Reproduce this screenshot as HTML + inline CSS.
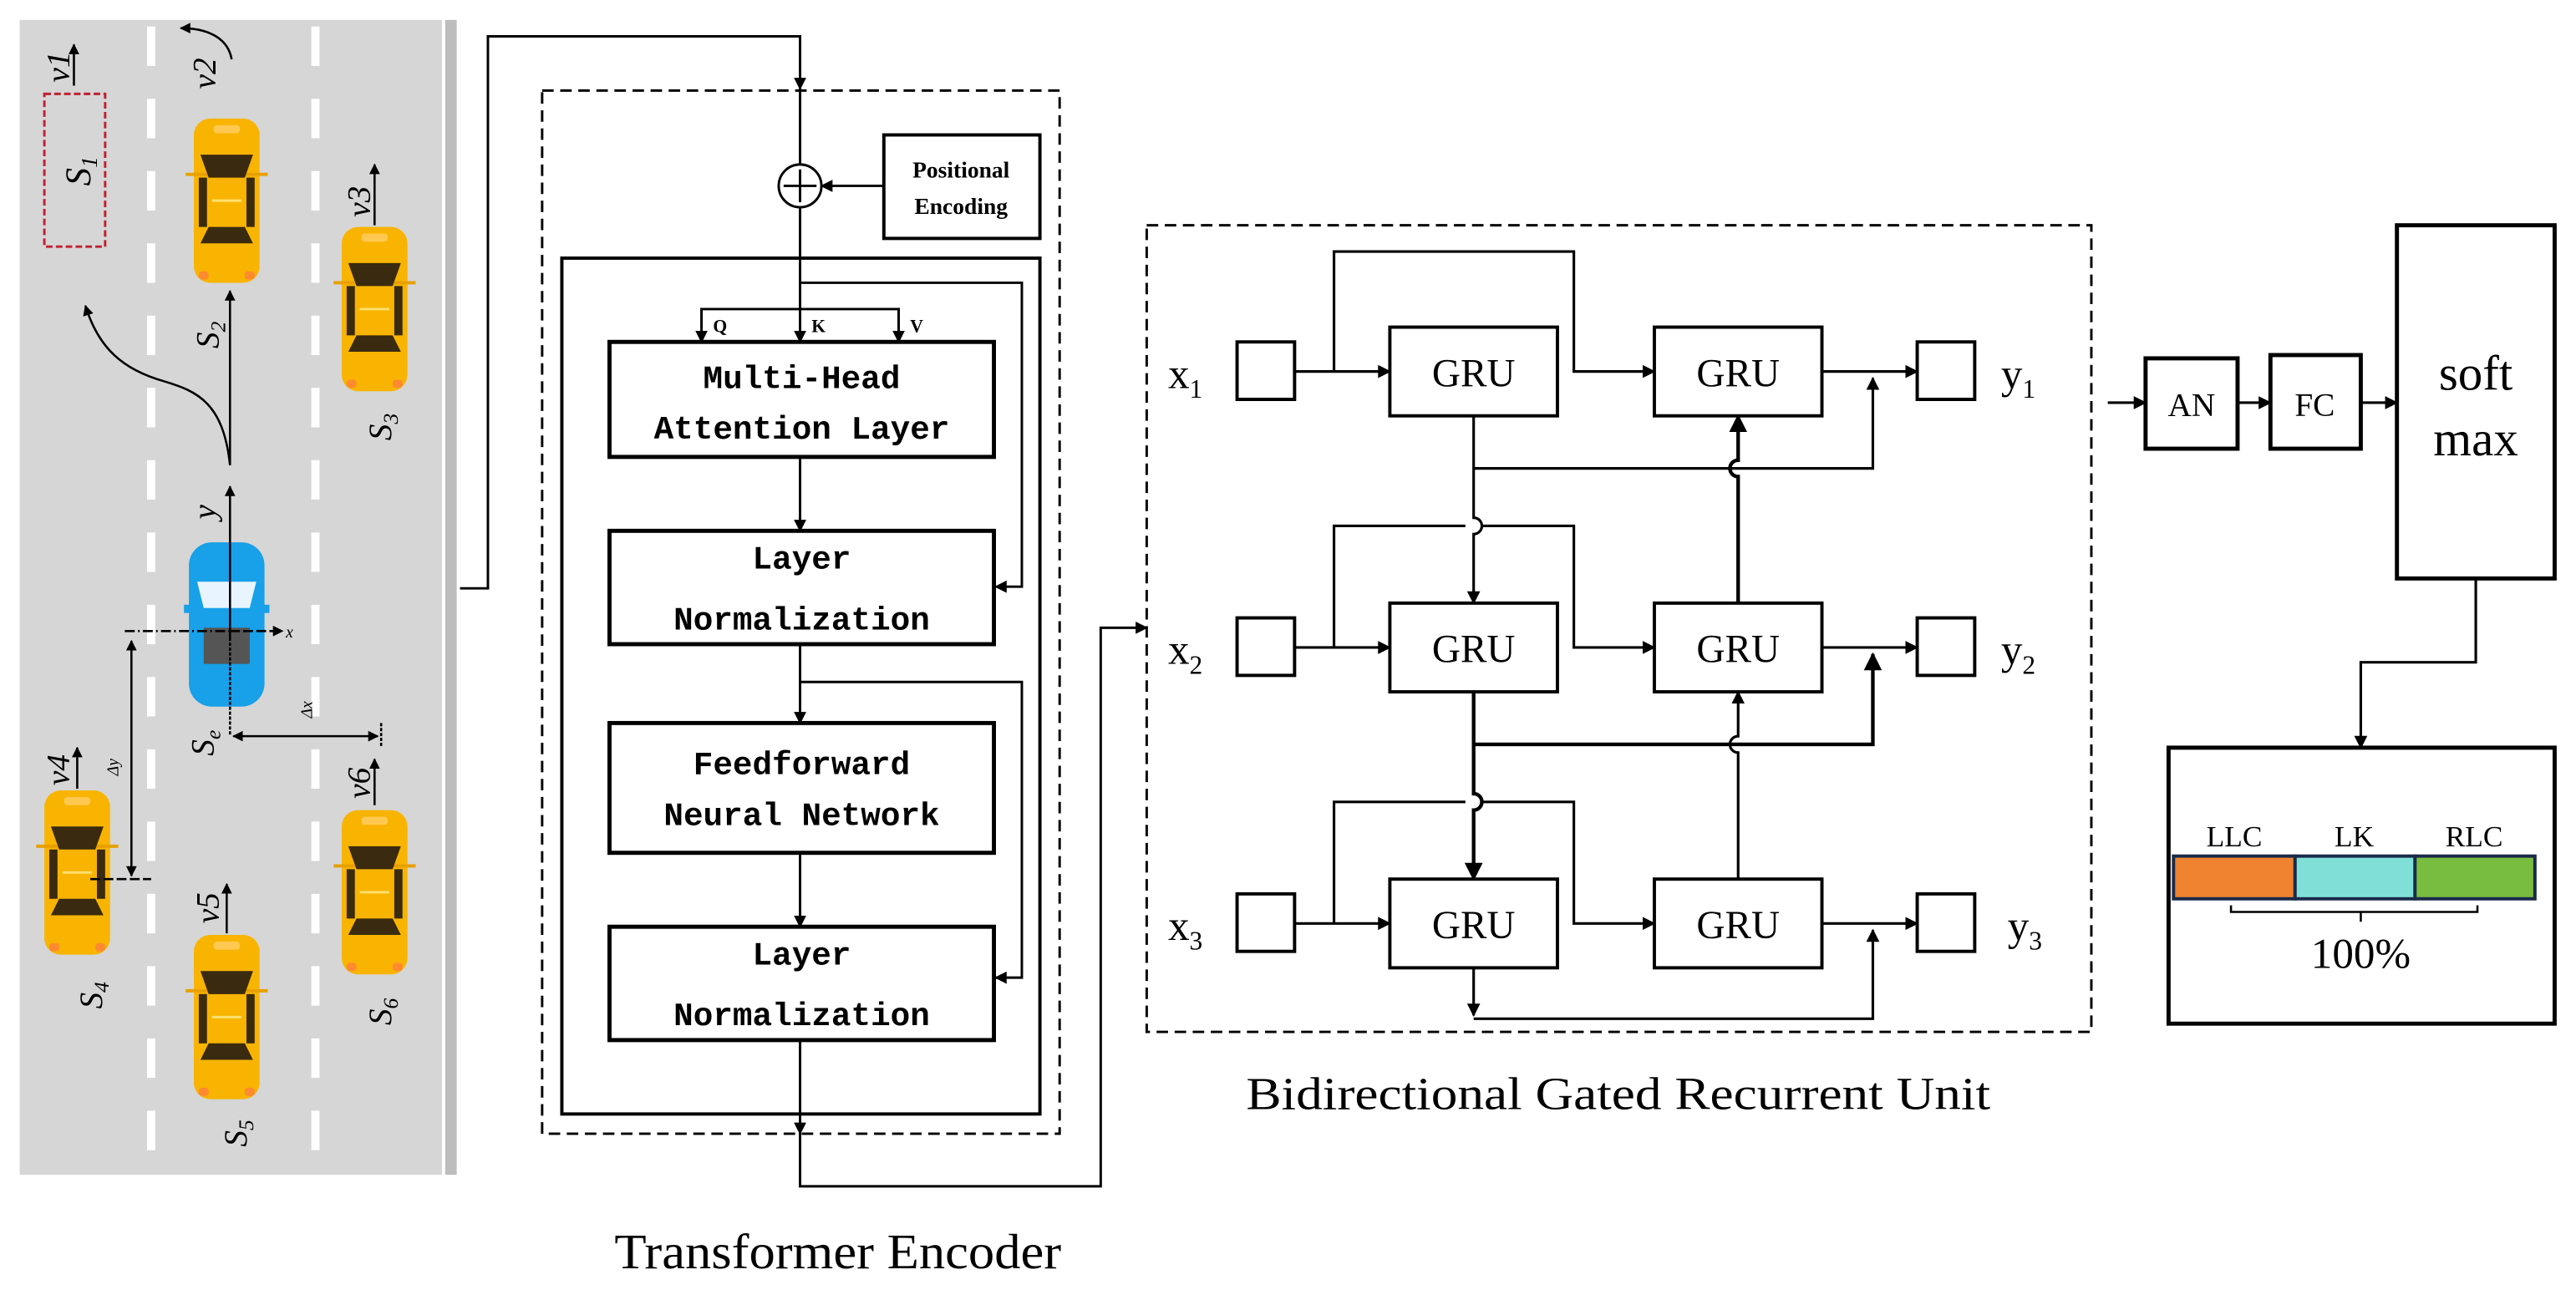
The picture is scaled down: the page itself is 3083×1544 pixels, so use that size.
<!DOCTYPE html>
<html><head><meta charset="utf-8"><style>
html,body{margin:0;padding:0;background:#fff;}
svg{display:block;}
.m{font-family:"Liberation Mono",monospace;font-size:20px;fill:#000;}
.s{font-family:"Liberation Serif",serif;fill:#000;}
.i{font-family:"Liberation Serif",serif;font-style:italic;fill:#000;}
</style></head><body>
<svg width="3083" height="1544" viewBox="0 0 1568 785" xmlns="http://www.w3.org/2000/svg">
<defs>
<marker id="a" viewBox="0 0 10 10" refX="9" refY="5" markerWidth="5" markerHeight="5" orient="auto-start-reverse"><path d="M0,0L10,5L0,10z" fill="#000"/></marker>
<g id="car">
<rect x="-20" y="-50" width="40" height="100" rx="10" fill="#f8b400"/>
<line x1="-25" y1="-16" x2="25" y2="-16" stroke="#e8a000" stroke-width="2"/>
<path d="M-16,-28 L16,-28 L11,-14 L-11,-14 Z" fill="#3a2a10"/>
<path d="M-16,26 L16,26 L11,16 L-11,16 Z" fill="#3a2a10"/>
<rect x="-17" y="-14" width="5" height="30" fill="#3a2a10"/>
<rect x="12" y="-14" width="5" height="30" fill="#3a2a10"/>
<line x1="-9" y1="0" x2="9" y2="0" stroke="#ffe070" stroke-width="1.5"/>
<rect x="-8" y="-46" width="16" height="5" rx="2" fill="#ffc850"/>
<rect x="-17" y="43" width="6" height="5" rx="2" fill="#ff8a30"/>
<rect x="11" y="43" width="6" height="5" rx="2" fill="#ff8a30"/>
</g>
</defs>

<!-- road -->
<rect x="12" y="12" width="257" height="703" fill="#d6d6d6"/>
<rect x="271" y="12" width="7" height="703" fill="#bdbdbd"/>
<line x1="92" y1="16" x2="92" y2="715" stroke="#fff" stroke-width="5" stroke-dasharray="24,20"/>
<line x1="192" y1="16" x2="192" y2="715" stroke="#fff" stroke-width="5" stroke-dasharray="24,20"/>
<rect x="27" y="57" width="37" height="93" fill="none" stroke="#c02030" stroke-width="1.5" stroke-dasharray="4,2"/>
<text class="i" font-size="22" transform="translate(55,104) rotate(-90)" text-anchor="middle">S<tspan font-size="14" dy="4">1</tspan></text>
<use href="#car" x="138" y="122"/>
<use href="#car" x="228" y="188"/>
<use href="#car" x="47" y="531"/>
<use href="#car" x="138" y="619"/>
<use href="#car" x="228" y="543"/>
<!-- blue car -->
<g transform="translate(138,380)">
<rect x="-23" y="-50" width="46" height="100" rx="14" fill="#18a0e8"/>
<path d="M-18,-26 L18,-26 L14,-10 L-14,-10 Z" fill="#e8f4ff"/>
<rect x="-14" y="2" width="28" height="22" fill="#555"/>
<rect x="-26" y="-12" width="6" height="5" fill="#18a0e8"/>
<rect x="20" y="-12" width="6" height="5" fill="#18a0e8"/>
</g>
<!-- arrows on road -->
<g stroke="#000" stroke-width="1.3" fill="none">
<line x1="45" y1="52" x2="45" y2="27" marker-end="url(#a)"/>
<line x1="228" y1="137" x2="228" y2="100" marker-end="url(#a)"/>
<line x1="140" y1="283" x2="140" y2="177" marker-end="url(#a)"/>
<line x1="140" y1="388" x2="140" y2="296" marker-end="url(#a)"/>
<line x1="47" y1="480" x2="47" y2="455" marker-end="url(#a)"/>
<line x1="138" y1="568" x2="138" y2="538" marker-end="url(#a)"/>
<line x1="228" y1="490" x2="228" y2="462" marker-end="url(#a)"/>
<path d="M140,283 C136,245 120,238 100,232 C75,225 60,212 52,186" marker-end="url(#a)"/>
<path d="M141,36 C139,24 128,17 110,17" marker-end="url(#a)"/>
<line x1="140" y1="384" x2="172" y2="384" marker-end="url(#a)" stroke-dasharray="6,2"/>
<line x1="76" y1="384" x2="140" y2="384" stroke-dasharray="6,2,1,2"/>
<line x1="140" y1="388" x2="140" y2="448" stroke-dasharray="2,1"/>
<line x1="80" y1="390" x2="80" y2="533" marker-start="url(#a)" marker-end="url(#a)"/>
<line x1="55" y1="535" x2="92" y2="535" stroke-dasharray="6,2"/>
<line x1="142" y1="448" x2="230" y2="448" marker-start="url(#a)" marker-end="url(#a)"/>
<line x1="232" y1="440" x2="232" y2="455" stroke-dasharray="2,1"/>
</g>
<g class="i" font-size="20">
<text transform="translate(42,50) rotate(-90)">v1</text>
<text transform="translate(131,54) rotate(-90)">v2</text>
<text transform="translate(225,132) rotate(-90)">v3</text>
<text transform="translate(42,478) rotate(-90)">v4</text>
<text transform="translate(133,562) rotate(-90)">v5</text>
<text transform="translate(225,486) rotate(-90)">v6</text>
<text transform="translate(131,316) rotate(-90)">y</text>
<text transform="translate(133,212) rotate(-90)">S<tspan font-size="13" dy="4">2</tspan></text>
<text transform="translate(238,268) rotate(-90)">S<tspan font-size="13" dy="4">3</tspan></text>
<text transform="translate(62,614) rotate(-90)">S<tspan font-size="13" dy="4">4</tspan></text>
<text transform="translate(150,698) rotate(-90)">S<tspan font-size="13" dy="4">5</tspan></text>
<text transform="translate(238,624) rotate(-90)">S<tspan font-size="13" dy="4">6</tspan></text>
<text transform="translate(130,460) rotate(-90)">S<tspan font-size="13" dy="4">e</tspan></text>
</g>
<text class="i" font-size="10" x="174" y="388">x</text>
<text class="i" font-size="10" transform="translate(190,437) rotate(-90)">Δx</text>
<text class="i" font-size="10" transform="translate(72,472) rotate(-90)">Δy</text>

<!-- connectors road -> transformer -->
<g stroke="#000" stroke-width="1.5" fill="none">
<polyline points="280,358 297,358 297,22 487,22 487,54" marker-end="url(#a)"/>
<line x1="487" y1="54" x2="487" y2="100"/>
<circle cx="487" cy="113" r="13" fill="#fff"/>
<line x1="477" y1="113" x2="497" y2="113"/>
<line x1="487" y1="103" x2="487" y2="123"/>
<line x1="538" y1="113" x2="500" y2="113" marker-end="url(#a)"/>
<line x1="487" y1="126" x2="487" y2="208" marker-end="url(#a)"/>
<polyline points="487,188 427,188 427,208" marker-end="url(#a)"/>
<polyline points="487,188 547,188 547,208" marker-end="url(#a)"/>
<polyline points="487,172 622,172 622,357 606,357" marker-end="url(#a)"/>
<line x1="487" y1="278" x2="487" y2="323" marker-end="url(#a)"/>
<line x1="487" y1="392" x2="487" y2="440" marker-end="url(#a)"/>
<polyline points="487,415 622,415 622,595 606,595" marker-end="url(#a)"/>
<line x1="487" y1="519" x2="487" y2="564" marker-end="url(#a)"/>
<line x1="487" y1="633" x2="487" y2="690" marker-end="url(#a)"/>
<polyline points="487,690 487,722 670,722 670,382 698,382" marker-end="url(#a)"/>
</g>
<rect x="330" y="55" width="315" height="635" fill="none" stroke="#000" stroke-width="1.5" stroke-dasharray="7,4"/>
<rect x="342" y="157" width="291" height="521" fill="none" stroke="#000" stroke-width="2"/>
<rect x="538" y="82" width="95" height="63" fill="#fff" stroke="#000" stroke-width="2"/>
<text class="s" font-weight="bold" font-size="14" x="585" y="108" text-anchor="middle">Positional</text>
<text class="s" font-weight="bold" font-size="14" x="585" y="130" text-anchor="middle">Encoding</text>
<text class="s" font-weight="bold" font-size="11" x="434" y="202">Q</text>
<text class="s" font-weight="bold" font-size="11" x="494" y="202">K</text>
<text class="s" font-weight="bold" font-size="11" x="554" y="202">V</text>
<g fill="#fff" stroke="#000" stroke-width="2.5">
<rect x="371" y="208" width="234" height="70"/>
<rect x="371" y="323" width="234" height="69"/>
<rect x="371" y="440" width="234" height="79"/>
<rect x="371" y="564" width="234" height="69"/>
</g>
<g class="m" font-weight="bold" text-anchor="middle">
<text x="488" y="236">Multi-Head</text>
<text x="488" y="267">Attention Layer</text>
<text x="488" y="346">Layer</text>
<text x="488" y="383">Normalization</text>
<text x="488" y="471">Feedforward</text>
<text x="488" y="502">Neural Network</text>
<text x="488" y="587">Layer</text>
<text x="488" y="624">Normalization</text>
</g>
<text class="s" font-size="30" x="510" y="772" text-anchor="middle" textLength="272" lengthAdjust="spacingAndGlyphs">Transformer Encoder</text>

<!-- BiGRU -->
<rect x="698" y="137" width="575" height="491" fill="none" stroke="#000" stroke-width="1.5" stroke-dasharray="7,4"/>
<g stroke="#000" stroke-width="1.6" fill="none">
<polyline points="812,226 812,153 958,153 958,226 1007,226" marker-end="url(#a)"/>
<polyline points="812,394 812,320 892,320"/><polyline points="902,320 958,320 958,394 1007,394" marker-end="url(#a)"/>
<polyline points="812,562 812,488 892,488"/><polyline points="902,488 958,488 958,562 1007,562" marker-end="url(#a)"/>
<line x1="788" y1="226" x2="846" y2="226" marker-end="url(#a)"/>
<line x1="788" y1="394" x2="846" y2="394" marker-end="url(#a)"/>
<line x1="788" y1="562" x2="846" y2="562" marker-end="url(#a)"/>
<line x1="1109" y1="226" x2="1167" y2="226" marker-end="url(#a)"/>
<line x1="1109" y1="394" x2="1167" y2="394" marker-end="url(#a)"/>
<line x1="1109" y1="562" x2="1167" y2="562" marker-end="url(#a)"/>
<path d="M897,253 V315 a5,5 0 0 1 0,10 V367" marker-end="url(#a)"/>
<polyline points="897,285 1140,285 1140,230" marker-end="url(#a)"/>
<path d="M897,421 V483 a5,5 0 0 1 0,10 V535" marker-end="url(#a)" stroke-width="2.2"/>
<polyline points="897,453 1140,453 1140,398" marker-end="url(#a)" stroke-width="2.2"/>
<line x1="897" y1="589" x2="897" y2="618" marker-end="url(#a)"/>
<polyline points="897,620 1140,620 1140,566" marker-end="url(#a)"/>
<path d="M1058,367 V290 a5,5 0 0 1 0,-10 V253" marker-end="url(#a)" stroke-width="2.2"/>
<path d="M1058,535 V458 a5,5 0 0 1 0,-10 V421" marker-end="url(#a)"/>
</g>
<g fill="#fff" stroke="#000" stroke-width="2">
<rect x="846" y="199" width="102" height="54"/><rect x="1007" y="199" width="102" height="54"/>
<rect x="846" y="367" width="102" height="54"/><rect x="1007" y="367" width="102" height="54"/>
<rect x="846" y="535" width="102" height="54"/><rect x="1007" y="535" width="102" height="54"/>
<rect x="753" y="208" width="35" height="35"/><rect x="753" y="376" width="35" height="35"/><rect x="753" y="544" width="35" height="35"/>
<rect x="1167" y="208" width="35" height="35"/><rect x="1167" y="376" width="35" height="35"/><rect x="1167" y="544" width="35" height="35"/>
</g>
<g class="s" font-size="24" text-anchor="middle">
<text x="897" y="235">GRU</text><text x="1058" y="235">GRU</text>
<text x="897" y="403">GRU</text><text x="1058" y="403">GRU</text>
<text x="897" y="571">GRU</text><text x="1058" y="571">GRU</text>
</g>
<g class="s" font-size="26">
<text x="711" y="236">x<tspan font-size="16" dy="6">1</tspan></text>
<text x="711" y="404">x<tspan font-size="16" dy="6">2</tspan></text>
<text x="711" y="572">x<tspan font-size="16" dy="6">3</tspan></text>
<text x="1218" y="236">y<tspan font-size="16" dy="6">1</tspan></text>
<text x="1218" y="404">y<tspan font-size="16" dy="6">2</tspan></text>
<text x="1222" y="572">y<tspan font-size="16" dy="6">3</tspan></text>
</g>
<text class="s" font-size="28" x="985" y="675" text-anchor="middle" textLength="453" lengthAdjust="spacingAndGlyphs">Bidirectional Gated Recurrent Unit</text>

<!-- right part -->
<g stroke="#000" stroke-width="1.6" fill="none">
<line x1="1283" y1="245" x2="1306" y2="245" marker-end="url(#a)"/>
<line x1="1362" y1="245" x2="1382" y2="245" marker-end="url(#a)"/>
<line x1="1437" y1="245" x2="1459" y2="245" marker-end="url(#a)"/>
<polyline points="1507,352 1507,403 1437,403 1437,455" marker-end="url(#a)"/>
</g>
<g fill="#fff" stroke="#000" stroke-width="2.5">
<rect x="1306" y="218" width="56" height="55"/>
<rect x="1382" y="216" width="55" height="57"/>
<rect x="1459" y="137" width="96" height="215"/>
<rect x="1320" y="455" width="235" height="168"/>
</g>
<text class="s" font-size="20" x="1334" y="253" text-anchor="middle">AN</text>
<text class="s" font-size="20" x="1409" y="253" text-anchor="middle">FC</text>
<text class="s" font-size="30" x="1507" y="237" text-anchor="middle">soft</text>
<text class="s" font-size="30" x="1507" y="277" text-anchor="middle">max</text>
<rect x="1323" y="521" width="74" height="26" fill="#ef8330" stroke="#1a2a4a" stroke-width="2"/>
<rect x="1397" y="521" width="73" height="26" fill="#80e0d8" stroke="#1a2a4a" stroke-width="2"/>
<rect x="1470" y="521" width="73" height="26" fill="#78bc40" stroke="#1a2a4a" stroke-width="2"/>
<g class="s" font-size="18" text-anchor="middle">
<text x="1360" y="515">LLC</text><text x="1433" y="515">LK</text><text x="1506" y="515">RLC</text>
</g>
<path d="M1358,551 v4 H1508 v-4 M1437,555 v6" stroke="#000" stroke-width="1.3" fill="none"/>
<text class="s" font-size="26" x="1437" y="589" text-anchor="middle">100%</text>
</svg>
</body></html>
